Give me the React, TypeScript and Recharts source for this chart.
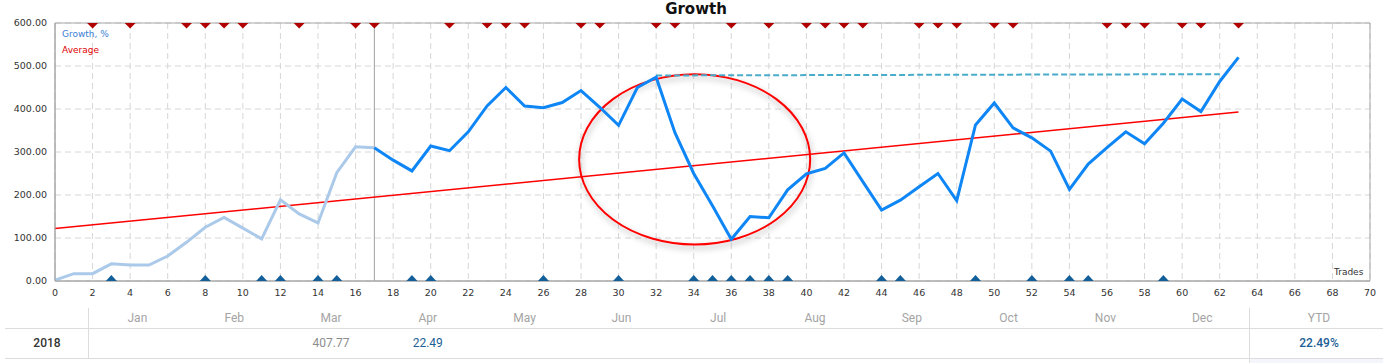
import {
  ComposedChart,
  Line,
  Scatter,
  XAxis,
  YAxis,
  CartesianGrid,
  ReferenceLine,
  ReferenceArea,
} from "recharts";

// growth %, trades 0..17 (pale part of the curve)
const growthEarly = [2, 17, 17, 40, 37, 37, 58, 90, 125, 148, 123, 98, 189, 156, 135, 252, 312, 310];
// growth %, trades 17..63
const growthLate = [
  310, 281, 256, 314, 303, 347, 407, 450, 407, 403, 415, 443, 404, 362, 450, 474, 345, 250, 175, 97,
  150, 147, 212, 249, 262, 298, 231, 165, 188, 219, 250, 187, 363, 414, 356, 333, 302, 213, 272, 310,
  347, 319, 367, 423, 394, 464, 520,
];
const lateStart = 17;
// trend line end points (trade, value)
const averageLine = [
  [0, 122],
  [63, 393],
];
// previous high marker (dashed)
const peakLine = [
  [32, 478],
  [62, 481],
];
const sellTrades = [2, 4, 7, 8, 9, 10, 13, 16, 17, 21, 23, 24, 25, 28, 29, 32, 33, 36, 38, 40, 41, 42, 43, 46, 47, 48, 50, 51, 56, 57, 58, 60, 61, 63];
const buyTrades = [3, 8, 11, 12, 14, 15, 19, 20, 26, 30, 34, 35, 36, 37, 38, 39, 44, 45, 49, 52, 54, 55, 59];

const xTicks = [0, 2, 4, 6, 8, 10, 12, 14, 16, 18, 20, 22, 24, 26, 28, 30, 32, 34, 36, 38, 40, 42, 44, 46, 48, 50, 52, 54, 56, 58, 60, 62, 64, 66, 68, 70];
const yTicks = [0, 100, 200, 300, 400, 500, 600];

const months = ["Jan", "Feb", "Mar", "Apr", "May", "Jun", "Jul", "Aug", "Sep", "Oct", "Nov", "Dec"];
const year = "2018";
const monthValues = ["", "", "407.77", "22.49", "", "", "", "", "", "", "", ""];
const ytdValue = "22.49%";

const lastTrade = lateStart + growthLate.length - 1;
const rows: any[] = [];
for (let t = 0; t <= lastTrade; t++) {
  const row: any = { trade: t };
  if (t < growthEarly.length) row.early = growthEarly[t];
  if (t >= lateStart) row.late = growthLate[t - lateStart];
  averageLine.forEach(([x, v]) => {
    if (x === t) row.avg = v;
  });
  peakLine.forEach(([x, v]) => {
    if (x === t) row.peak = v;
  });
  rows.push(row);
}
const sellData = sellTrades.map((t) => ({ trade: t, level: 600 }));
const buyData = buyTrades.map((t) => ({ trade: t, level: 0 }));

const SellMark = (p: any) => (
  <polygon points={`${p.cx - 5.5},${p.cy} ${p.cx + 5.5},${p.cy} ${p.cx},${p.cy + 5.5}`} fill="#b00000" />
);
const BuyMark = (p: any) => (
  <polygon points={`${p.cx - 5.5},${p.cy} ${p.cx + 5.5},${p.cy} ${p.cx},${p.cy - 6}`} fill="#135f99" />
);

const EllipseShape = (p: any) => {
  const { x, y, width, height } = p;
  return (
    <g>
      <defs>
        <filter id="ellShadow" x="-20%" y="-20%" width="140%" height="140%">
          <feDropShadow dx="1" dy="3" stdDeviation="3" floodColor="#000" floodOpacity="0.35" />
        </filter>
      </defs>
      <ellipse
        cx={x + width / 2}
        cy={y + height / 2}
        rx={width / 2}
        ry={height / 2}
        fill="none"
        stroke="#ff0000"
        strokeWidth={2}
        filter="url(#ellShadow)"
      />
    </g>
  );
};

const tickStyle = { fontSize: 9.5, fill: "#333", fontFamily: "DejaVu Sans" };
const lineColor = "#dcdcdc";
const colW = 96.8;

export default function App() {
  return (
    <div
      style={{
        position: "absolute",
        left: 0,
        top: 0,
        width: 1383,
        height: 363,
        background: "#fff",
        overflow: "hidden",
        fontFamily: "DejaVu Sans",
      }}
    >
      <ComposedChart width={1383} height={305} data={rows} margin={{ top: 23, right: 13, left: 0, bottom: 4 }}>
        <CartesianGrid stroke="#d6d6d6" strokeDasharray="6 4" />
        <XAxis
          dataKey="trade"
          type="number"
          domain={[0, 70]}
          ticks={xTicks}
          interval={0}
          height={20}
          tickLine={false}
          axisLine={{ stroke: "#a8a8a8" }}
          tick={tickStyle}
        />
        <YAxis
          type="number"
          domain={[0, 600]}
          ticks={yTicks}
          width={55}
          tickLine={false}
          axisLine={{ stroke: "#a8a8a8" }}
          tick={tickStyle}
          tickFormatter={(v) => Number(v).toFixed(2)}
        />
        <ReferenceArea x1={0} x2={70} y1={0} y2={600} fill="none" stroke="#a8a8a8" />
        <ReferenceLine x={17} stroke="#a0a0a0" />
        <Line dataKey="avg" type="linear" stroke="#ff0000" strokeWidth={1.5} dot={false} connectNulls isAnimationActive={false} />
        <Line
          dataKey="peak"
          type="linear"
          stroke="#4aaccb"
          strokeWidth={2}
          strokeDasharray="6 3"
          dot={false}
          connectNulls
          isAnimationActive={false}
        />
        <Line dataKey="early" type="linear" stroke="#abc9e9" strokeWidth={3} dot={false} isAnimationActive={false} />
        <Line dataKey="late" type="linear" stroke="#0f86f6" strokeWidth={3} dot={false} isAnimationActive={false} />
        <ReferenceArea x1={27.9} x2={40.2} y1={85} y2={481} shape={EllipseShape} />
        <Scatter data={sellData} dataKey="level" shape={SellMark} isAnimationActive={false} />
        <Scatter data={buyData} dataKey="level" shape={BuyMark} isAnimationActive={false} />
      </ComposedChart>

      {/* title and inline legend */}
      <div
        style={{
          position: "absolute",
          left: 596,
          width: 200,
          top: 0,
          textAlign: "center",
          fontFamily: "DejaVu Sans",
          fontWeight: 700,
          fontSize: 15,
          lineHeight: "normal",
          color: "#111",
        }}
      >
        Growth
      </div>
      <div style={{ position: "absolute", left: 62, top: 28, fontSize: 9, lineHeight: "12px", color: "#3a7fd6" }}>Growth, %</div>
      <div style={{ position: "absolute", left: 62, top: 44, fontSize: 9, lineHeight: "12px", color: "#e00000" }}>Average</div>
      <div style={{ position: "absolute", left: 1334, top: 266, fontSize: 9, lineHeight: "12px", color: "#333" }}>Trades</div>

      {/* monthly table */}
      <div style={{ position: "absolute", left: 5, top: 328, width: 1378, height: 1, background: lineColor }} />
      <div style={{ position: "absolute", left: 5, top: 358, width: 1378, height: 1, background: lineColor }} />
      <div style={{ position: "absolute", left: 1250, top: 359, width: 133, height: 4, background: "#f4f6fc" }} />
      <div style={{ position: "absolute", left: 88, top: 308, width: 1, height: 50, background: lineColor }} />
      <div style={{ position: "absolute", left: 1249, top: 308, width: 1, height: 55, background: lineColor }} />
      {months.map((m, i) => (
        <div
          key={m}
          style={{
            position: "absolute",
            left: 89 + i * colW,
            width: colW,
            top: 308,
            height: 20,
            lineHeight: "20px",
            textAlign: "center",
            fontFamily: "Roboto",
            fontSize: 12,
            color: "#a4a4a4",
          }}
        >
          {m}
        </div>
      ))}
      <div
        style={{
          position: "absolute",
          left: 1250,
          width: 138,
          top: 308,
          height: 20,
          lineHeight: "20px",
          textAlign: "center",
          fontFamily: "Roboto",
          fontSize: 12,
          color: "#a4a4a4",
        }}
      >
        YTD
      </div>
      <div
        style={{
          position: "absolute",
          left: 0,
          width: 94,
          top: 329,
          height: 29,
          lineHeight: "29px",
          textAlign: "center",
          fontFamily: "Roboto",
          fontWeight: 500,
          fontSize: 12,
          color: "#333",
        }}
      >
        {year}
      </div>
      {monthValues.map((v, i) => (
        <div
          key={i}
          style={{
            position: "absolute",
            left: 89 + i * colW,
            width: colW,
            top: 329,
            height: 29,
            lineHeight: "29px",
            textAlign: "center",
            fontFamily: "Roboto",
            fontSize: 12,
            color: i === 2 ? "#8c8c8c" : "#1d5f96",
          }}
        >
          {v}
        </div>
      ))}
      <div
        style={{
          position: "absolute",
          left: 1250,
          width: 138,
          top: 329,
          height: 29,
          lineHeight: "29px",
          textAlign: "center",
          fontFamily: "Roboto",
          fontWeight: 500,
          fontSize: 12,
          color: "#1d5f96",
        }}
      >
        {ytdValue}
      </div>
    </div>
  );
}
